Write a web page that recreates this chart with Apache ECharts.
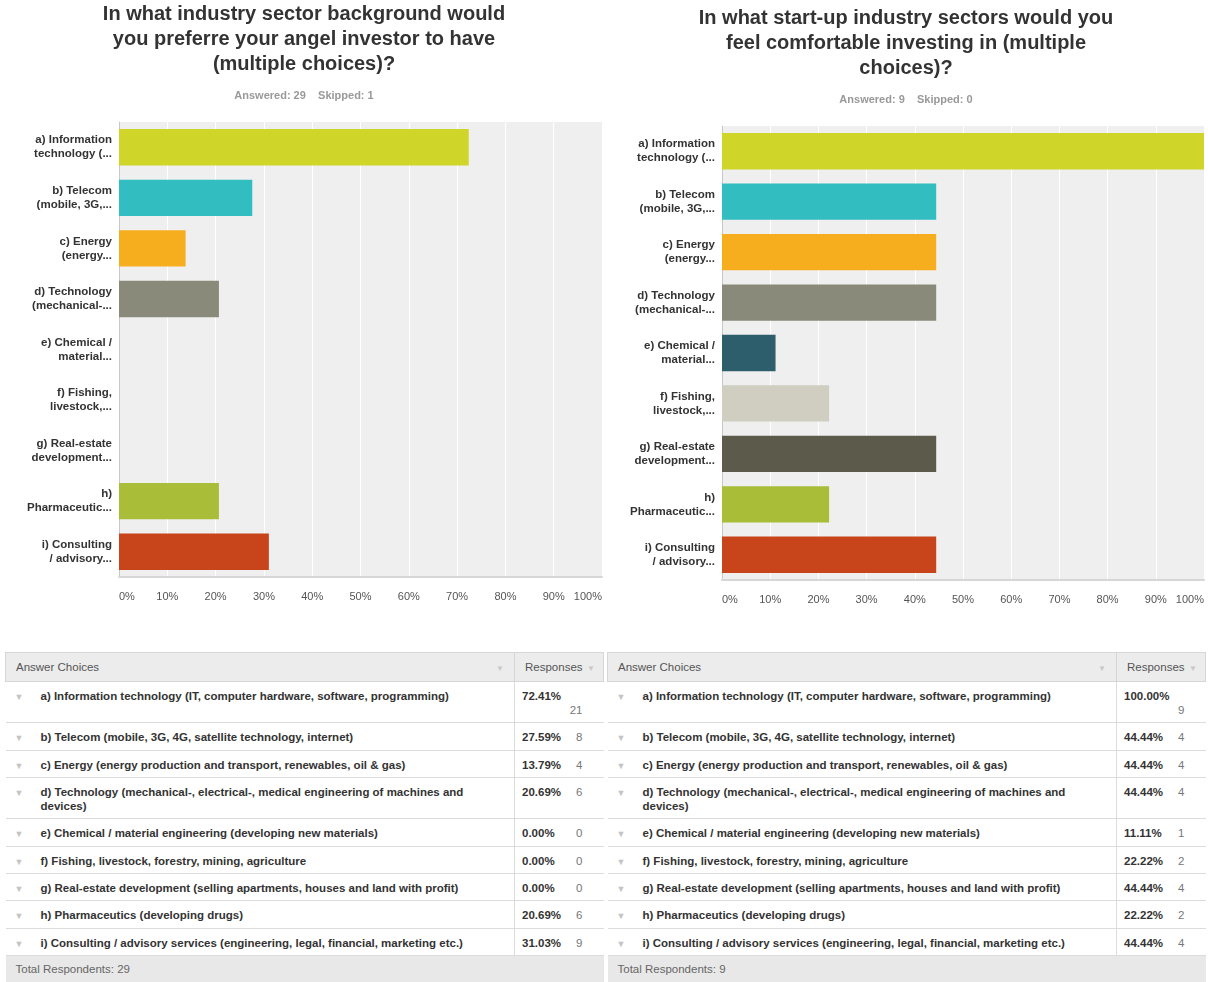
<!DOCTYPE html>
<html>
<head>
<meta charset="utf-8">
<script src="https://cdn.jsdelivr.net/npm/echarts@6/dist/echarts.min.js"></script>
<style>
  html, body { margin: 0; padding: 0; background: #fff; width: 1208px; height: 982px; overflow: hidden; font-family: "Liberation Sans", Arial, sans-serif; }
  #chart { position: absolute; left: 0; top: 0; width: 1208px; height: 640px; }
  table.resp { position: absolute; top: 652px; border-collapse: collapse; font-size: 11.5px; color: #333; table-layout: fixed; }
  table.resp td { border-top: 1px solid #dcdcdc; border-bottom: 1px solid #dcdcdc; padding: 0; vertical-align: top; position: relative; }
  table.resp tr.hdr td { background: #ececec; color: #555; vertical-align: middle; border: 1px solid #d6d6d6; }
  table.resp tr.tot td { background: #e8e8e8; color: #666; vertical-align: middle; border: none; }
  .tri { position: absolute; left: 9px; top: 10px; color: #c4c4c4; font-size: 9px; }
  .ans { padding: 7px 20px 0 35px; line-height: 14px; font-weight: bold; }
  .pc { position: absolute; left: 7px; top: 7px; line-height: 14px; font-weight: bold; }
  .ct { position: absolute; right: 21px; top: 7px; line-height: 14px; color: #777; }
  .ct2 { top: 21px; }
  td.rc { border-left: 1px solid #dcdcdc; }
  .htri { position: absolute; color: #c8c8c8; font-size: 8px; top: 11px; }
</style>
</head>
<body>
<div id="chart"></div>
<div id="tables"></div>
<script>
// ---------- data ----------
const categories = [
  'a) Information\ntechnology (...',
  'b) Telecom\n(mobile, 3G,...',
  'c) Energy\n(energy...',
  'd) Technology\n(mechanical-...',
  'e) Chemical /\nmaterial...',
  'f) Fishing,\nlivestock,...',
  'g) Real-estate\ndevelopment...',
  'h)\nPharmaceutic...',
  'i) Consulting\n/ advisory...'
];
const choices = [
  'a) Information technology (IT, computer hardware, software, programming)',
  'b) Telecom (mobile, 3G, 4G, satellite technology, internet)',
  'c) Energy (energy production and transport, renewables, oil &amp; gas)',
  'd) Technology (mechanical-, electrical-, medical engineering of machines and devices)',
  'e) Chemical / material engineering (developing new materials)',
  'f) Fishing, livestock, forestry, mining, agriculture',
  'g) Real-estate development (selling apartments, houses and land with profit)',
  'h) Pharmaceutics (developing drugs)',
  'i) Consulting / advisory services (engineering, legal, financial, marketing etc.)'
];
const leftPct = [72.41, 27.59, 13.79, 20.69, 0.00, 0.00, 0.00, 20.69, 31.03];
const leftCount = [21, 8, 4, 6, 0, 0, 0, 6, 9];
const rightPct = [100.00, 44.44, 44.44, 44.44, 11.11, 22.22, 44.44, 22.22, 44.44];
const rightCount = [9, 4, 4, 4, 1, 2, 4, 2, 4];
const leftTitle = 'In what industry sector background would\nyou preferre your angel investor to have\n(multiple choices)?';
const rightTitle = 'In what start-up industry sectors would you\nfeel comfortable investing in (multiple\nchoices)?';
const leftSub = 'Answered: 29    Skipped: 1';
const rightSub = 'Answered: 9    Skipped: 0';
const leftTotal = 'Total Respondents: 29';
const rightTotal = 'Total Respondents: 9';
const barColors = ['#cfd629', '#32bdc0', '#f6ae1e', '#898a79', '#2c5e6b', '#cfcec0', '#5c5a4b', '#a9bd38', '#c8451b'];

// ---------- chart ----------
const chart = echarts.init(document.getElementById('chart'));
const FONT = '"Liberation Sans", Arial, sans-serif';

function titleCfg(text, sub, cx, top) {
  return {
    text: text, subtext: sub, left: cx, top: top, textAlign: 'center', itemGap: 13,
    textStyle: { fontFamily: FONT, fontSize: 20, fontWeight: 'bold', color: '#333', lineHeight: 25 },
    subtextStyle: { fontFamily: FONT, fontSize: 11, fontWeight: 'bold', color: '#999' }
  };
}
function xAxisCfg(idx) {
  return {
    type: 'value', gridIndex: idx, min: 0, max: 100, interval: 10,
    axisLabel: { formatter: '{value}%', color: '#555', fontSize: 11, fontFamily: FONT, margin: 14, alignMinLabel: 'left', alignMaxLabel: 'right' },
    axisLine: { show: true, lineStyle: { color: '#d6d6d6', width: 2 } },
    axisTick: { show: false },
    splitLine: { show: true, lineStyle: { color: '#ffffff', width: 1 } }
  };
}
function yAxisCfg(idx) {
  return {
    type: 'category', gridIndex: idx, inverse: true, data: categories,
    axisLabel: { color: '#333', fontSize: 11.5, fontWeight: 'bold', fontFamily: FONT, lineHeight: 14, margin: 7, align: 'right' },
    axisLine: { show: true, lineStyle: { color: '#c8c8c8', width: 1 } },
    axisTick: { show: false }
  };
}
function barData(vals) {
  return vals.map((v, i) => ({ value: v, itemStyle: { color: barColors[i] } }));
}

chart.setOption({
  animation: false,
  title: [titleCfg(leftTitle, leftSub, 299, -3), titleCfg(rightTitle, rightSub, 901, 1)],
  grid: [
    { left: 119, top: 122, width: 483, height: 455, show: true, backgroundColor: '#efefef', borderWidth: 0 },
    { left: 722, top: 126, width: 482, height: 454, show: true, backgroundColor: '#efefef', borderWidth: 0 }
  ],
  xAxis: [xAxisCfg(0), xAxisCfg(1)],
  yAxis: [yAxisCfg(0), yAxisCfg(1)],
  series: [
    { type: 'bar', xAxisIndex: 0, yAxisIndex: 0, data: barData(leftPct), barCategoryGap: '28%' },
    { type: 'bar', xAxisIndex: 1, yAxisIndex: 1, data: barData(rightPct), barCategoryGap: '28%' }
  ]
});

// ---------- tables ----------
const rowHeights = [41, 28, 27, 41, 28, 27, 27, 28, 27];
function buildTable(left, ansW, pct, cnt, total) {
  let h = '<table class="resp" style="left:' + left + 'px;width:' + (ansW + 89) + 'px">';
  h += '<colgroup><col style="width:' + ansW + 'px"><col style="width:89px"></colgroup>';
  h += '<tr class="hdr" style="height:29px"><td style="padding-left:10px">Answer Choices<span class="htri" style="right:10px">&#9660;</span></td>' +
       '<td class="rc" style="padding-left:10px">Responses<span class="htri" style="right:8px">&#9660;</span></td></tr>';
  for (let i = 0; i < choices.length; i++) {
    const wrap = i === 0;
    h += '<tr style="height:' + rowHeights[i] + 'px"><td><span class="tri">&#9660;</span><div class="ans">' + choices[i] + '</div></td>' +
         '<td class="rc"><span class="pc">' + pct[i].toFixed(2) + '%</span>' +
         '<span class="ct' + (wrap ? ' ct2' : '') + '">' + cnt[i] + '</span></td></tr>';
  }
  h += '<tr class="tot" style="height:27px"><td colspan="2" style="padding-left:10px">' + total + '</td></tr>';
  h += '</table>';
  return h;
}
document.getElementById('tables').innerHTML =
  buildTable(5, 509, leftPct, leftCount, leftTotal) +
  buildTable(607, 509, rightPct, rightCount, rightTotal);
</script>
</body>
</html>
